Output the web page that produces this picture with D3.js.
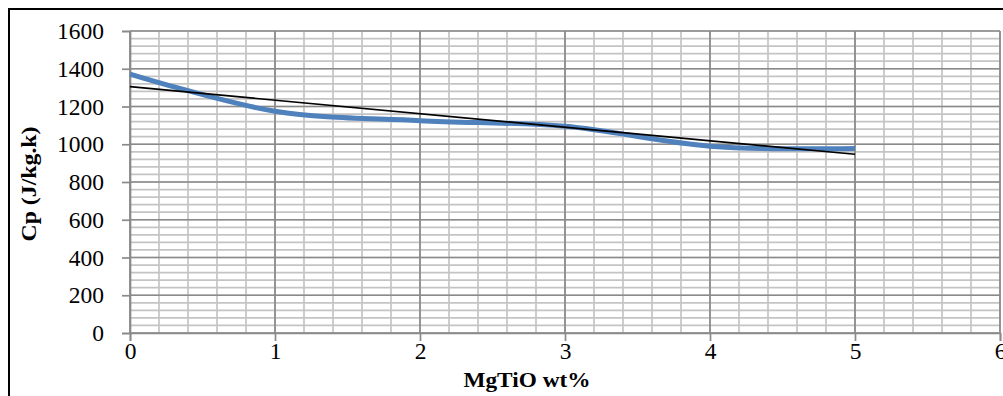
<!DOCTYPE html>
<html>
<head>
<meta charset="utf-8">
<script src="https://cdn.jsdelivr.net/npm/d3@7"></script>
<style>
  body { margin: 0; background: #fff; }
  svg text { font-family: "Liberation Serif", "Times New Roman", serif; fill: #000; }
</style>
</head>
<body>
<div id="chart"></div>
<script>

// measured Cp values (blue, smoothed) and the linear trend end points (black)
var wtPct   = [0, 1, 2, 3, 4, 5],
    cpVals  = [1372, 1175, 1125, 1095, 990, 978],
    trendX  = [0, 5],
    trendY  = [1305, 947];

var xTicks = [0, 1, 2, 3, 4, 5, 6],
    yTicks = [0, 200, 400, 600, 800, 1000, 1200, 1400, 1600];

var width = 1003, height = 396;

var svg = d3.select("#chart").append("svg")
            .attr("width", width).attr("height", height);

// outer chart frame (right and bottom sides fall outside the picture)
svg.append("rect")
   .attr("x", 9).attr("y", 9)
   .attr("width", 1100).attr("height", 600)
   .attr("fill", "none").attr("stroke", "#000").attr("stroke-width", 2);

var x = d3.scaleLinear().domain([0, 6]).range([130, 1000]),
    y = d3.scaleLinear().domain([0, 1600]).range([333, 31]);

// minor grid every 0.2 / 40
var xMinor = d3.range(0, 6.001, 0.2),
    yMinor = d3.range(0, 1600.1, 40);

var grid = svg.append("g");

grid.selectAll(".vminor").data(xMinor).enter().append("line")
    .attr("x1", function(d) { return x(d); }).attr("x2", function(d) { return x(d); })
    .attr("y1", y(0)).attr("y2", y(1600))
    .attr("stroke", "#c4c4c4").attr("stroke-width", 1.7);

grid.selectAll(".hminor").data(yMinor).enter().append("line")
    .attr("y1", function(d) { return y(d); }).attr("y2", function(d) { return y(d); })
    .attr("x1", x(0)).attr("x2", x(6))
    .attr("stroke", "#c4c4c4").attr("stroke-width", 1.7);

grid.selectAll(".vmajor").data(xTicks).enter().append("line")
    .attr("x1", function(d) { return x(d); }).attr("x2", function(d) { return x(d); })
    .attr("y1", y(0)).attr("y2", y(1600))
    .attr("stroke", "#8a8a8a").attr("stroke-width", 1.7);

grid.selectAll(".hmajor").data(yTicks).enter().append("line")
    .attr("y1", function(d) { return y(d); }).attr("y2", function(d) { return y(d); })
    .attr("x1", x(0)).attr("x2", x(6))
    .attr("stroke", "#8a8a8a").attr("stroke-width", 1.7);

// axes
var xAxis = d3.axisBottom(x).tickValues(xTicks).tickSize(8).tickPadding(1).tickFormat(d3.format("d"));
var yAxis = d3.axisLeft(y).tickValues(yTicks).tickSize(8).tickPadding(18).tickFormat(d3.format("d"));

var gx = svg.append("g").attr("transform", "translate(0," + y(0) + ")").call(xAxis);
var gy = svg.append("g").attr("transform", "translate(" + x(0) + ",0)").call(yAxis);

[gx, gy].forEach(function(g) {
  g.select(".domain").attr("stroke", "#8a8a8a").attr("stroke-width", 1.7);
  g.selectAll(".tick line").attr("stroke", "#8a8a8a").attr("stroke-width", 1.7);
  g.selectAll(".tick text")
   .style("font-family", "'Liberation Serif', serif")
   .style("font-size", "23.5px").attr("fill", "#000");
});

// data line, smoothed like the spreadsheet
var line = d3.line()
             .x(function(d, i) { return x(wtPct[i]); })
             .y(function(d) { return y(d); })
             .curve(d3.curveCatmullRom.alpha(0));

svg.append("path")
   .datum(cpVals)
   .attr("d", line)
   .attr("fill", "none")
   .attr("stroke", "#4f81bd")
   .attr("stroke-width", 5)
   .attr("stroke-linecap", "butt");

// linear trend
svg.append("line")
   .attr("x1", x(trendX[0])).attr("y1", y(trendY[0]))
   .attr("x2", x(trendX[1])).attr("y2", y(trendY[1]))
   .attr("stroke", "#000").attr("stroke-width", 1.7);

// axis titles
svg.append("text")
   .attr("x", 527).attr("y", 387)
   .attr("text-anchor", "middle")
   .attr("textLength", 127).attr("lengthAdjust", "spacingAndGlyphs")
   .style("font-size", "22px").style("font-weight", "bold")
   .text("MgTiO wt%");

svg.append("text")
   .attr("transform", "translate(36,184) rotate(-90)")
   .attr("text-anchor", "middle")
   .attr("textLength", 115).attr("lengthAdjust", "spacingAndGlyphs")
   .style("font-size", "21px").style("font-weight", "bold")
   .text("Cp (J/kg.k)");

</script>
</body>
</html>
